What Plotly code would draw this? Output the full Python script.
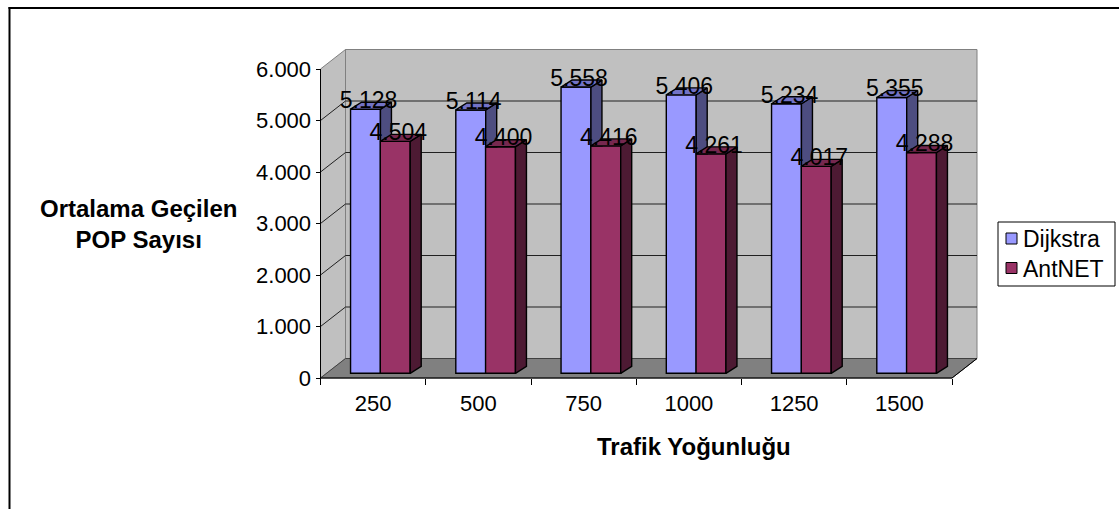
import plotly.graph_objects as go

# ---------------- data ----------------
categories = ["250", "500", "750", "1000", "1250", "1500"]
dijkstra = [5.128, 5.114, 5.558, 5.406, 5.234, 5.355]
antnet = [4.504, 4.400, 4.416, 4.261, 4.017, 4.288]
y_tick_vals = [0, 1, 2, 3, 4, 5, 6]
y_tick_text = ["0", "1.000", "2.000", "3.000", "4.000", "5.000", "6.000"]
series_names = ["Dijkstra", "AntNET"]
x_title = "Trafik Yoğunluğu"
y_title = "Ortalama Geçilen<br>POP Sayısı"

# ---------------- geometry (pixels -> data units) ----------------
W, H = 1119, 509
X0, CPX = 320.5, 105.25      # px of category 0 on front plane, px per category
Y0, VPX = 378.0, 51.5        # px of value 0 on front plane, px per unit
NC = len(categories)
VMAX = y_tick_vals[-1]

def cx(p):
    return p / CPX

def vy(p):
    return p / VPX

WDX, WDY = cx(25), vy(19.5)   # wall depth
BDX, BDY = cx(11), vy(7)      # bar depth
B0 = vy(4.7)                  # bar base recess
BW = cx(29.9)                 # bar width
OFFS = [cx(45), cx(74.75)]    # bar centre offsets inside a category
LW = 1.4                      # bar outline width

FONT = "Liberation Sans, Arial, sans-serif"

fig = go.Figure()
shapes = []

def path(pts):
    return "M " + " L ".join(f"{x},{y}" for x, y in pts) + " Z"

def wall(pts, fill, line_color):
    shapes.append(dict(type="path", xref="x", yref="y", layer="below",
                       path=path(pts), fillcolor=fill,
                       line=dict(color=line_color, width=1)))

def seg(x0, y0, x1, y1, color, width=1, xref="x", yref="y"):
    shapes.append(dict(type="line", xref=xref, yref=yref, layer="below",
                       x0=x0, y0=y0, x1=x1, y1=y1,
                       line=dict(color=color, width=width)))

# walls and floor
wall([(WDX, WDY), (NC + WDX, WDY), (NC + WDX, VMAX + WDY), (WDX, VMAX + WDY)], "#c0c0c0", "#808080")
wall([(0, 0), (WDX, WDY), (WDX, VMAX + WDY), (0, VMAX)], "#c0c0c0", "#808080")
wall([(0, 0), (NC, 0), (NC + WDX, WDY), (WDX, WDY)], "#808080", "#404040")

# gridlines
for v in y_tick_vals[1:-1]:
    seg(0, v, WDX, v + WDY, "#202020")
    seg(WDX, v + WDY, NC + WDX, v + WDY, "#202020")

# axis lines
seg(0, 0, 0, VMAX, "black")
seg(0, 0, NC, 0, "black")
seg(NC, 0, NC + WDX, WDY, "black")

face_cols = [
    ("#9999ff", "#7373c6", "#4d4d80"),
    ("#993366", "#76284f", "#4d1a33"),
]
all_vals = [dijkstra, antnet]

def poly(xs, ys, fill):
    fig.add_trace(go.Scatter(x=xs, y=ys, mode="lines", fill="toself",
                             fillcolor=fill, line=dict(color="black", width=LW),
                             hoverinfo="skip", showlegend=False))

for s, vals in enumerate(all_vals):
    front, top_c, side_c = face_cols[s]
    sx, sy, tx, ty = [], [], [], []
    for i, v in enumerate(vals):
        xc = i + OFFS[s]
        xl, xr = xc - BW / 2, xc + BW / 2
        t = B0 + v
        # part of the side face hidden by the next series' front face
        if s + 1 < len(all_vals):
            low = B0 + all_vals[s + 1][i]
        else:
            low = B0
        if t > low:
            if low > B0:
                sx += [xr, xr + BDX, xr + BDX, xr, xr, None]
                sy += [low, low, t + BDY, t, low, None]
            else:
                sx += [xr, xr + BDX, xr + BDX, xr, xr, None]
                sy += [B0, B0 + BDY, t + BDY, t, B0, None]
        tx += [xl, xr, xr + BDX, xl + BDX, xl, None]
        ty += [t, t, t + BDY, t + BDY, t, None]
    fig.add_trace(go.Bar(
        x=[i + OFFS[s] for i in range(NC)], y=vals, base=B0, width=BW,
        name=series_names[s], marker=dict(color=front, line=dict(color="black", width=LW)),
        hoverinfo="skip", showlegend=False))
    if sx:
        poly(sx, sy, side_c)
    poly(tx, ty, top_c)

# data labels
for s, vals in enumerate(all_vals):
    fig.add_trace(go.Scatter(
        x=[i + OFFS[s] + cx(3) for i in range(NC)],
        y=[B0 + v + vy(7) for v in vals],
        mode="text", text=[f"{v:.3f}" for v in vals],
        textposition="middle center",
        textfont=dict(family=FONT, size=23, color="black"),
        hoverinfo="skip", showlegend=False, cliponaxis=False))

# legend (drawn in paper pixels)
def px_x(p):
    return p / W

def px_y(p):
    return 1 - p / H

shapes.append(dict(type="rect", xref="paper", yref="paper", layer="above",
                   x0=px_x(998), x1=px_x(1115), y0=px_y(222), y1=px_y(286),
                   fillcolor="white", line=dict(color="black", width=1)))
annotations = []
for k, name in enumerate(series_names):
    yc = 238.5 + 29.5 * k
    shapes.append(dict(type="rect", xref="paper", yref="paper", layer="above",
                       x0=px_x(1006), x1=px_x(1017), y0=px_y(yc - 5.5), y1=px_y(yc + 5.5),
                       fillcolor=face_cols[k][0], line=dict(color="black", width=1)))
    annotations.append(dict(text=name, xref="paper", yref="paper",
                            x=px_x(1021), y=px_y(yc + 0.5), showarrow=False,
                            font=dict(size=23), xanchor="left", yanchor="middle"))

annotations += [
    dict(text=f"<b>{x_title}</b>", xref="paper", yref="paper",
         x=693.5 / W, y=1 - 446 / H, showarrow=False,
         font=dict(size=24), xanchor="center", yanchor="middle"),
    dict(text=f"<b>{y_title}</b>", xref="paper", yref="paper",
         x=138 / W, y=1 - 223.5 / H, showarrow=False,
         font=dict(size=24), xanchor="center", yanchor="middle", align="center"),
]

# outer frame (top and left edges)
shapes.append(dict(type="line", xref="paper", yref="paper", x0=9.5 / W, x1=9.5 / W,
                   y0=0, y1=1 - 7 / H, line=dict(color="black", width=2)))
shapes.append(dict(type="line", xref="paper", yref="paper", x0=8.5 / W, x1=1,
                   y0=1 - 8 / H, y1=1 - 8 / H, line=dict(color="black", width=2)))

fig.update_layout(
    width=W, height=H,
    margin=dict(l=0, r=0, t=0, b=0),
    paper_bgcolor="white", plot_bgcolor="white",
    font=dict(family=FONT, color="black"),
    barmode="overlay", showlegend=False,
    xaxis=dict(domain=[0, 1], range=[-X0 / CPX, (W - X0) / CPX],
               anchor="free", position=(H - Y0) / H,
               tickvals=[i + 0.5 for i in range(NC)], ticktext=categories,
               ticks="", showline=False, showgrid=False, zeroline=False,
               tickfont=dict(size=22), automargin=False, fixedrange=True,
               ticklabelstandoff=10,
               minor=dict(tickvals=list(range(NC + 1)), ticks="outside", ticklen=6,
                          tickcolor="black", tickwidth=1, showgrid=False)),
    yaxis=dict(domain=[0, 1], range=[(Y0 - H) / VPX, Y0 / VPX],
               anchor="free", position=X0 / W, side="left",
               tickvals=y_tick_vals, ticktext=y_tick_text,
               ticks="outside", ticklen=5, tickcolor="black", tickwidth=1,
               showline=False, showgrid=False, zeroline=False,
               tickfont=dict(size=22), automargin=False, fixedrange=True),
    annotations=annotations,
    shapes=shapes,
)

fig.write_html("out.html")
